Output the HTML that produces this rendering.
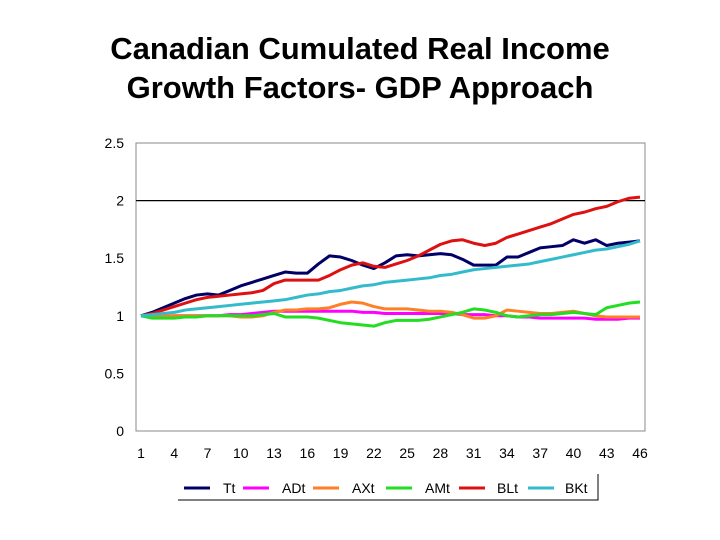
<!DOCTYPE html>
<html><head><meta charset="utf-8"><style>
body{margin:0;background:#fff;width:720px;height:540px;overflow:hidden;font-family:"Liberation Sans",Arial,sans-serif}
.title{position:absolute;left:0;width:720px;top:29px;text-align:center;font-size:31px;font-weight:bold;line-height:39px;color:#000}
</style></head><body>
<div class="title">Canadian Cumulated Real Income<br>Growth Factors- GDP Approach</div>
<svg id="chart" width="720" height="540" style="position:absolute;left:0;top:0"></svg>
<script>
const categories=[];for(let i=1;i<=46;i++)categories.push(i);
const xTickLabels=[1,4,7,10,13,16,19,22,25,28,31,34,37,40,43,46];
const yTicks=[0,0.5,1,1.5,2,2.5];
const yTickLabels=["0","0.5","1","1.5","2","2.5"];
const seriesNames=["Tt","ADt","AXt","AMt","BLt","BKt"];
const seriesColors=["#000066","#ff00ff","#ff7f27","#22dd22","#dd1111","#33bbcc"];
const Tt=[1.0,1.03,1.07,1.11,1.15,1.18,1.19,1.18,1.22,1.26,1.29,1.32,1.35,1.38,1.37,1.37,1.45,1.52,1.51,1.48,1.44,1.41,1.46,1.52,1.53,1.52,1.53,1.54,1.53,1.49,1.44,1.44,1.44,1.51,1.51,1.55,1.59,1.60,1.61,1.66,1.63,1.66,1.61,1.63,1.64,1.65];
const ADt=[1.0,0.99,0.99,1.0,1.0,1.0,1.0,1.0,1.01,1.01,1.02,1.03,1.04,1.04,1.04,1.04,1.04,1.04,1.04,1.04,1.03,1.03,1.02,1.02,1.02,1.02,1.02,1.02,1.02,1.01,1.01,1.01,1.0,1.0,0.99,0.99,0.98,0.98,0.98,0.98,0.98,0.97,0.97,0.97,0.98,0.98];
const AXt=[1.0,1.0,1.0,1.0,1.0,1.0,1.0,1.0,1.0,0.99,0.99,1.0,1.03,1.05,1.05,1.06,1.06,1.07,1.10,1.12,1.11,1.08,1.06,1.06,1.06,1.05,1.04,1.04,1.03,1.01,0.98,0.98,1.0,1.05,1.04,1.03,1.02,1.02,1.03,1.04,1.02,1.0,0.99,0.99,0.99,0.99];
const AMt=[1.0,0.98,0.98,0.98,0.99,0.99,1.0,1.0,1.0,1.0,1.0,1.01,1.02,0.99,0.99,0.99,0.98,0.96,0.94,0.93,0.92,0.91,0.94,0.96,0.96,0.96,0.97,0.99,1.01,1.03,1.06,1.05,1.03,1.0,0.99,1.0,1.01,1.01,1.02,1.03,1.02,1.01,1.07,1.09,1.11,1.12];
const BLt=[1.0,1.02,1.05,1.08,1.11,1.14,1.16,1.17,1.18,1.19,1.20,1.22,1.28,1.31,1.31,1.31,1.31,1.35,1.40,1.44,1.46,1.43,1.42,1.45,1.48,1.52,1.57,1.62,1.65,1.66,1.63,1.61,1.63,1.68,1.71,1.74,1.77,1.80,1.84,1.88,1.90,1.93,1.95,1.99,2.02,2.03];
const BKt=[1.0,1.01,1.02,1.03,1.05,1.06,1.07,1.08,1.09,1.10,1.11,1.12,1.13,1.14,1.16,1.18,1.19,1.21,1.22,1.24,1.26,1.27,1.29,1.30,1.31,1.32,1.33,1.35,1.36,1.38,1.40,1.41,1.42,1.43,1.44,1.45,1.47,1.49,1.51,1.53,1.55,1.57,1.58,1.60,1.62,1.65];
const allSeries=[Tt,ADt,AXt,AMt,BLt,BKt];
const svg=document.getElementById('chart');const NS='http://www.w3.org/2000/svg';
const L=136,R=645,T=143,B=431;
function x(c){return 141+(c-1)*(640-141)/45;}
function y(v){return B-(v/2.5)*(B-T);}
function mk(t,a,p){const e=document.createElementNS(NS,t);for(const k in a)e.setAttribute(k,a[k]);(p||svg).appendChild(e);return e;}
let frame=mk('rect',{x:L,y:T,width:R-L,height:B-T,fill:'none',stroke:'#888','stroke-width':1});


let gl=mk('line',{x1:L,x2:R,y1:y(2),y2:y(2),stroke:'#000','stroke-width':1.2});


yTicks.forEach((v,i)=>{const t=mk('text',{x:L-12,y:y(v)+5,'text-anchor':'end','font-size':14,'font-family':'Liberation Sans, Arial, sans-serif'});t.textContent=yTickLabels[i];

});
xTickLabels.forEach(c=>{const t=mk('text',{x:x(c),y:458,'text-anchor':'middle','font-size':14,'font-family':'Liberation Sans, Arial, sans-serif'});t.textContent=c;

});
allSeries.forEach((s,k)=>{const p=mk('polyline',{points:s.map((v,i)=>x(categories[i])+','+y(v)).join(' '),fill:'none',stroke:seriesColors[k],'stroke-width':3,'stroke-linejoin':'round'});

});
const lx=[184,243,313,386,459,528];
const tx=[223,282,352,425,497,565];
let lb=mk('polyline',{points:'178,500 598,500 598,474',fill:'none',stroke:'#000','stroke-width':1});


seriesNames.forEach((n,k)=>{const l=mk('line',{x1:lx[k],x2:lx[k]+26,y1:488,y2:488,stroke:seriesColors[k],'stroke-width':3});


const t=mk('text',{x:tx[k],y:493,'font-size':14,'font-family':'Liberation Sans, Arial, sans-serif'});t.textContent=n;

});
</script>
</body></html>
